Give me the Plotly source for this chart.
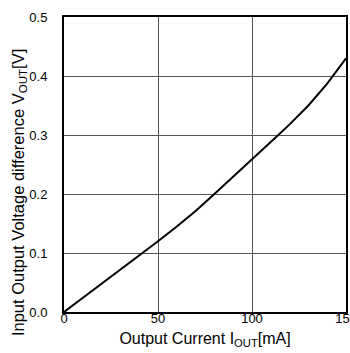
import plotly.graph_objects as go

# Output current [mA] and input-output voltage difference [V]
iout_ma = [0, 10, 20, 30, 42, 50, 60, 70, 80, 90, 100, 110, 114, 120, 130,
           140, 143, 150]
vdrop_v = [0.0, 0.024, 0.048, 0.072, 0.1, 0.12, 0.145, 0.171, 0.2, 0.229,
           0.259, 0.288, 0.3, 0.318, 0.35, 0.387, 0.4, 0.43]

x_ticks = [0, 50, 100, 150]
y_ticks = [0.0, 0.1, 0.2, 0.3, 0.4, 0.5]

fig = go.Figure()
fig.add_trace(go.Scatter(
    x=iout_ma, y=vdrop_v, mode="lines",
    line=dict(color="black", width=2),
    showlegend=False,
))

font = dict(family="Liberation Sans, Arial, sans-serif", color="black")

fig.update_layout(
    width=350, height=353,
    margin=dict(l=64, r=4, t=17, b=41),
    paper_bgcolor="white", plot_bgcolor="white",
    font=dict(size=12, **font),
)
fig.update_xaxes(
    range=[0, 150], tickvals=x_ticks, ticks="", ticklen=0,
    ticklabeloverflow="allow", ticklabelstandoff=-7, automargin=False,
    showgrid=True, gridcolor="#555", gridwidth=1,
    showline=True, linecolor="black", linewidth=2, mirror=True,
    zeroline=False, tickfont=dict(size=13, **font),
    title=dict(text="Output Current I<sub>OUT</sub>[mA]",
               font=dict(size=16, **font), standoff=8),
)
fig.update_yaxes(
    range=[0, 0.5], tickvals=y_ticks, tickformat=".1f", ticks="",
    ticklabelstandoff=12, automargin=False,
    showgrid=True, gridcolor="#555", gridwidth=1,
    showline=True, linecolor="black", linewidth=2, mirror=True,
    zeroline=False, tickfont=dict(size=13, **font),
)

# y-axis title, sitting a little below the plot's vertical centre
fig.add_annotation(
    text="Input Output Voltage difference V<sub>OUT</sub>[V]",
    xref="paper", yref="paper", x=0, y=0.403, xshift=-45,
    xanchor="center", yanchor="middle", textangle=-90,
    showarrow=False, font=dict(size=16.5, **font),
)

fig.write_html("out.html")
